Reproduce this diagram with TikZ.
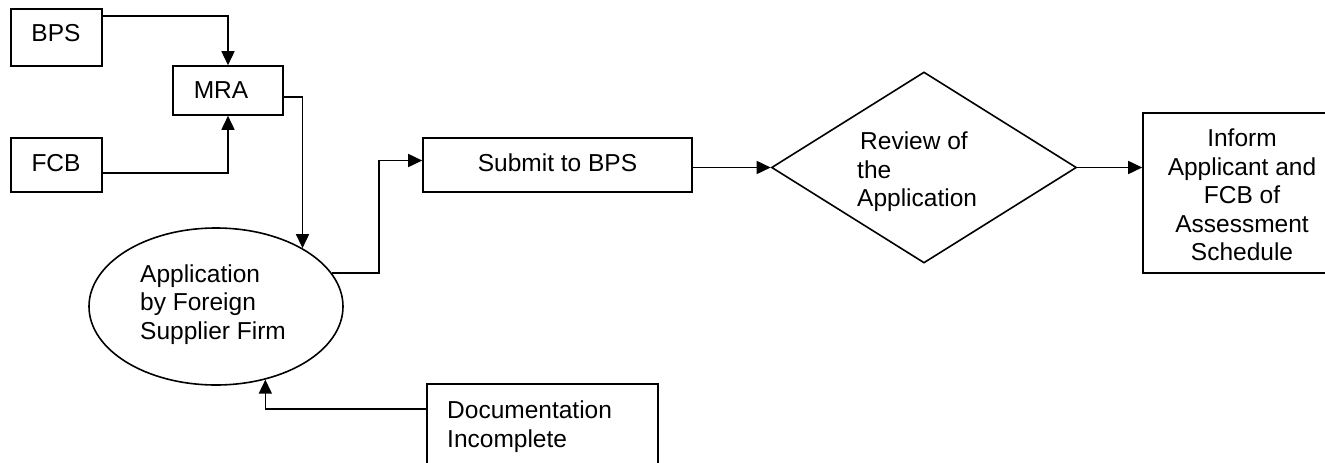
\documentclass[tikz,border=0pt]{standalone}
\usepackage{fontspec}
\setmainfont{Liberation Sans}
\usetikzlibrary{arrows.meta,shapes.geometric}
\begin{document}
\begin{tikzpicture}[x=1pt,y=-1pt,
  every node/.style={font=\fontsize{24.5}{28.5}\selectfont, inner sep=0pt},
  box/.style={draw, line width=1.6pt, rectangle},
  conn/.style={line width=1.6pt, -{Triangle[length=14pt,width=13pt]}}
]
\useasboundingbox (0,0) rectangle (1325,463);

% shapes
\node[box, minimum width=91pt, minimum height=57pt] (bps) at (56.5,37.5) {};
\node[box, minimum width=110pt, minimum height=49pt] (mra) at (228,90.5) {};
\node[box, minimum width=91pt, minimum height=54pt] (fcb) at (56.5,165) {};
\node[box, minimum width=269pt, minimum height=54pt] (submit) at (557.5,165) {};
\node[box, minimum width=198pt, minimum height=160pt] (inform) at (1242,193) {};
\node[box, minimum width=231pt, minimum height=96pt] (doc) at (542.5,432) {};
\node[draw, line width=1.6pt, ellipse, minimum width=254pt, minimum height=157pt] (app) at (216,306.5) {};
\node[draw, line width=1.6pt, diamond, minimum width=305pt, minimum height=191pt] (review) at (924,167.5) {};

% texts
\node (tbps) at (56,33) {BPS};
\node (tmra) at (221,90) {MRA};
\node (tfcb) at (56,163) {FCB};
\node (tsub) at (557.5,163) {Submit to BPS};
\node[align=left, anchor=west] (trev) at (857,172) {\hspace{3pt}Review of\\the\\Application};
\node[align=center] (tinf) at (1242,195) {Inform\\Applicant and\\FCB of\\Assessment\\Schedule};
\node[align=left, anchor=west] (tapp) at (140,304.5) {Application\\by Foreign\\Supplier Firm};
\node[align=left, anchor=west] (tdoc) at (447,426.5) {Documentation\\Incomplete};

% connectors
\draw[conn] ([yshift=-8pt]bps.north east) -| (mra.north);
\draw[conn] ([yshift=-8pt]fcb.east) -| (mra.south);
\draw[conn] ([yshift=-6.5pt]mra.east) -| (app.34);
\draw[conn] (app.16) -- ++(47,0) |- ([yshift=4.5pt]submit.west);
\draw[conn] (submit.east |- review.west) -- (review.west);
\draw[conn] (review.east) -- (review.east -| inform.west);
\draw[conn] ([yshift=23pt]doc.west) -| (app.-56);
\end{tikzpicture}
\end{document}
